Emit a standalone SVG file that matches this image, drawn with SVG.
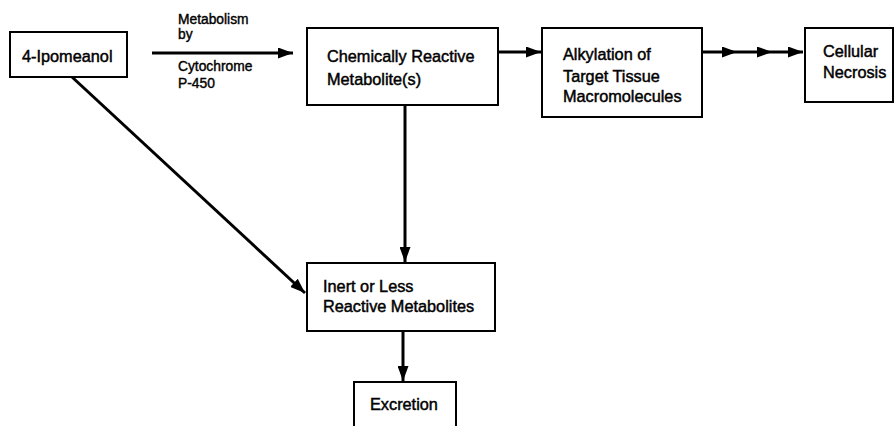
<svg xmlns="http://www.w3.org/2000/svg" width="894" height="426" viewBox="0 0 894 426">
<defs>
<style>
.box{fill:#fff;stroke:#000;stroke-width:2}
.t{font-family:"Liberation Sans",Arial,sans-serif;font-size:16.3px;fill:#000;stroke:#000;stroke-width:0.45}
.s{font-family:"Liberation Sans",Arial,sans-serif;font-size:13.8px;fill:#000;stroke:#000;stroke-width:0.4}
.ln{fill:none;stroke:#000;stroke-width:3}
</style>
<marker id="ah" viewBox="0 0 15 11" refX="15" refY="5.5" markerWidth="15" markerHeight="11" markerUnits="userSpaceOnUse" orient="auto">
<path d="M0,0 L15,5.5 L0,11 Z" fill="#000"/>
</marker>
</defs>
<rect width="894" height="426" fill="#fff"/>
<g id="connectors">
<line class="ln" x1="152" y1="53" x2="293" y2="53" marker-end="url(#ah)"/>
<line class="ln" x1="498" y1="52" x2="541" y2="52" marker-end="url(#ah)"/>
<polyline class="ln" points="702,52 737,52 772,52 803,52" marker-mid="url(#ah)" marker-end="url(#ah)"/>
<line class="ln" x1="405" y1="105" x2="405" y2="262" marker-end="url(#ah)"/>
<line class="ln" x1="72" y1="77" x2="305" y2="293" marker-end="url(#ah)"/>
<line class="ln" x1="403" y1="331" x2="403" y2="381" marker-end="url(#ah)"/>
<text class="s" x="178" y="24">Metabolism</text>
<text class="s" x="178" y="39">by</text>
<text class="s" x="178" y="71">Cytochrome</text>
<text class="s" x="178" y="88">P-450</text>
</g>
<g id="n1">
<rect class="box" x="10" y="32" width="117" height="45"/>
<text class="t" x="22" y="62">4-Ipomeanol</text>
</g>
<g id="n2">
<rect class="box" x="307" y="28" width="191" height="77"/>
<text class="t" x="327" y="62">Chemically Reactive</text>
<text class="t" x="327" y="85">Metabolite(s)</text>
</g>
<g id="n3">
<rect class="box" x="542" y="28" width="160" height="89"/>
<text class="t" x="563" y="60">Alkylation of</text>
<text class="t" x="563" y="82">Target Tissue</text>
<text class="t" x="563" y="102">Macromolecules</text>
</g>
<g id="n4">
<rect class="box" x="805" y="28" width="88" height="74"/>
<text class="t" x="823" y="57">Cellular</text>
<text class="t" x="823" y="78">Necrosis</text>
</g>
<g id="n5">
<rect class="box" x="307" y="263" width="188" height="68"/>
<text class="t" x="323" y="292">Inert or Less</text>
<text class="t" x="323" y="312">Reactive Metabolites</text>
</g>
<g id="n6">
<rect class="box" x="354" y="382" width="102" height="50"/>
<text class="t" x="370" y="410">Excretion</text>
</g>
</svg>
